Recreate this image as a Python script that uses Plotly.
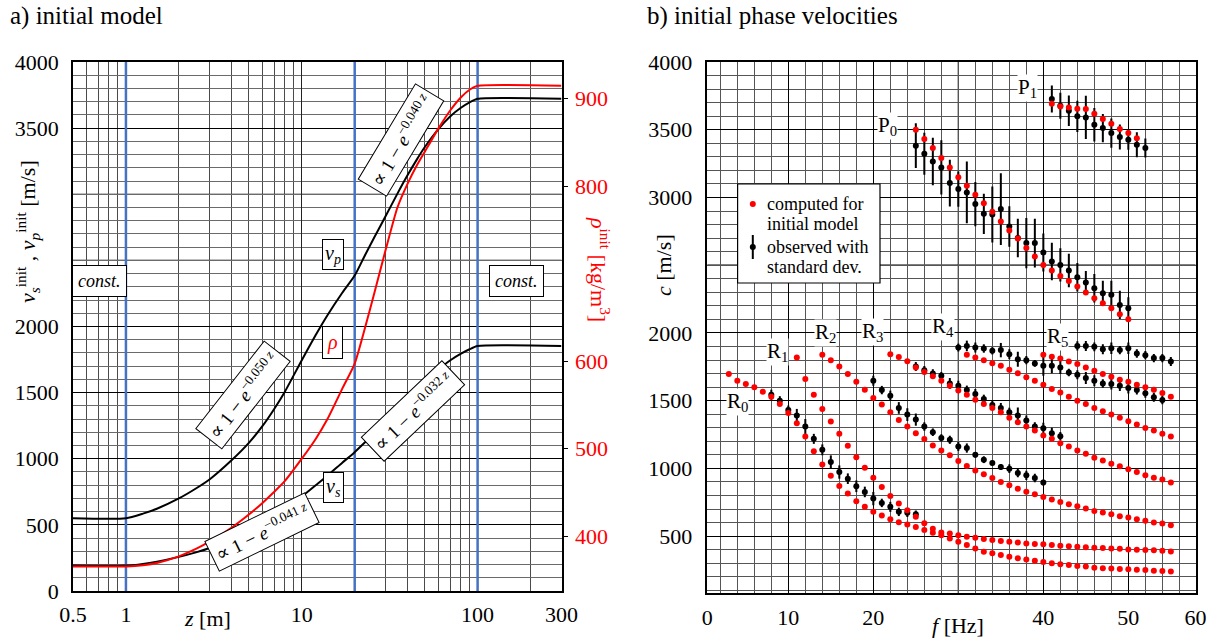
import math
import plotly.graph_objects as go

W, H = 1215, 641
FONT = "Liberation Serif, Times New Roman, DejaVu Serif, serif"

# ---------------- panel a) initial model ----------------
z_m = [0.5, 1, 1.25, 1.5, 2, 2.5, 3, 4, 5, 6, 7, 8, 10, 12, 14, 17, 20, 23, 26, 30, 35, 40, 45, 50,
       60, 70, 80, 90, 100, 300]
vs_init = [192, 192, 205, 222, 258, 292, 325, 395, 458, 515, 565, 615, 715, 800, 872, 970, 1050,
           1127, 1196, 1280, 1372, 1455, 1522, 1580, 1675, 1745, 1793, 1828, 1852, 1852]
vp_init = [550, 550, 585, 622, 700, 775, 845, 990, 1120, 1250, 1380, 1505, 1745, 1935, 2085, 2255,
           2385, 2545, 2680, 2835, 3005, 3145, 3260, 3355, 3495, 3590, 3652, 3695, 3722, 3722]
rho_init = [365.6, 365.6, 367.0, 369.5, 377.1, 385.5, 394.1, 410.0, 424.8, 438.4, 451.1, 462.9,
            488.6, 511.2, 533.9, 568.6, 597.3, 639.6, 679.6, 727.2, 775.5, 802.7, 823.1, 839.0,
            866.2, 886.6, 900.9, 910.0, 914.5, 914.5]
layer_bounds_m = [1, 20, 100]

z_ticks = [0.5, 1, 10, 100, 300]
z_minor = [0.6, 0.7, 0.8, 0.9, 2, 3, 4, 5, 6, 7, 8, 9, 20, 30, 40, 50, 60, 70, 80, 90, 200]
v_ticks = [0, 500, 1000, 1500, 2000, 3500, 4000]
v_unlabelled_major = [2500, 3000]
rho_ticks = [400, 500, 600, 800, 900]

# ---------------- panel b) initial phase velocities ----------------
# computed for initial model (red)
f_R0 = list(range(3, 56))
c_R0 = [1696, 1647, 1623, 1598, 1566, 1529, 1475, 1409, 1333, 1235, 1127, 1029, 946, 870, 814, 757,
        716, 679, 652, 625, 603, 585, 567, 545, 525, 507, 483, 458, 434, 409, 385, 373, 360, 348,
        336, 328, 319, 309, 299, 292, 287, 279, 275, 267, 262, 260, 257, 255, 252, 250, 245, 243, 238]
f_R1 = list(range(11, 56))
c_R1 = [1819, 1659, 1544, 1439, 1346, 1255, 1167, 1083, 1005, 931, 863, 797, 740, 690, 642, 595,
        555, 527, 520, 507, 495, 488, 478, 471, 463, 458, 453, 446, 441, 439, 434, 429, 426, 422,
        417, 414, 412, 409, 407, 402, 400, 397, 395, 392, 387]
f_R2 = list(range(14, 56))
c_R2 = [1838, 1799, 1752, 1696, 1640, 1581, 1520, 1471, 1414, 1358, 1309, 1260, 1216, 1169, 1132,
        1096, 1054, 1017, 985, 956, 929, 900, 875, 850, 828, 809, 789, 770, 752, 735, 721, 703, 686,
        674, 662, 647, 637, 625, 613, 600, 593, 581]
f_R3 = list(range(22, 56))
c_R3 = [1843, 1823, 1790, 1745, 1712, 1680, 1647, 1610, 1574, 1544, 1507, 1475, 1446, 1414, 1373,
        1341, 1309, 1279, 1243, 1218, 1186, 1162, 1132, 1108, 1078, 1059, 1034, 1015, 993, 973, 949,
        931, 917, 895]
f_R4 = list(range(31, 56))
c_R4 = [1838, 1819, 1799, 1777, 1757, 1728, 1703, 1672, 1647, 1618, 1586, 1561, 1529, 1500, 1475,
        1446, 1422, 1397, 1373, 1348, 1324, 1299, 1279, 1255, 1235]
f_R5 = list(range(40, 56))
c_R5 = [1838, 1824, 1811, 1789, 1770, 1745, 1721, 1696, 1677, 1655, 1640, 1618, 1598, 1581, 1557, 1529]
f_P0 = list(range(25, 51))
c_P0 = [3500, 3431, 3365, 3291, 3222, 3150, 3086, 3020, 2958, 2894, 2823, 2756, 2697, 2626, 2564,
        2502, 2461, 2421, 2384, 2342, 2298, 2256, 2219, 2182, 2138, 2101]
f_P1 = list(range(41, 52))
c_P1 = [3692, 3672, 3665, 3655, 3653, 3618, 3579, 3544, 3505, 3475, 3438]

# observed with standard deviation (black)
fo_P0 = list(range(25, 51))
co_P0 = [3382, 3323, 3266, 3222, 3106, 3062, 3037, 2951, 2879, 2874, 2914, 2786, 2700, 2663, 2663,
         2594, 2527, 2502, 2461, 2411, 2372, 2330, 2293, 2281, 2207, 2182]
so_P0 = [165, 155, 175, 200, 172, 130, 228, 164, 148, 207, 265, 150, 142, 185, 180, 140, 138, 123,
         123, 105, 86, 105, 92, 105, 105, 82]
fo_P1 = list(range(41, 53))
co_P1 = [3727, 3677, 3640, 3599, 3591, 3537, 3512, 3475, 3446, 3426, 3389, 3365]
so_P1 = [100, 96, 113, 115, 160, 123, 105, 108, 92, 74, 92, 70]
fo_A = list(range(8, 26))
co_A = [1544, 1500, 1431, 1390, 1309, 1218, 1137, 1047, 973, 924, 868, 826, 777, 745, 716, 679, 672, 662]
so_A = [37, 33, 33, 49, 55, 37, 40, 49, 49, 39, 43, 39, 49, 31, 37, 31, 31, 27]
fo_B = list(range(20, 41))
co_B = [1647, 1578, 1537, 1446, 1397, 1360, 1309, 1267, 1225, 1211, 1162, 1150, 1100, 1064, 1039,
        1010, 998, 966, 949, 929, 895]
so_B = [37, 31, 37, 43, 47, 45, 31, 28, 27, 30, 33, 34, 21, 25, 18, 22, 32, 31, 34, 31, 21]
fo_C = list(range(25, 43))
co_C = [1752, 1725, 1701, 1684, 1627, 1610, 1578, 1549, 1512, 1468, 1446, 1414, 1390, 1353, 1309,
        1297, 1260, 1238]
so_C = [33, 31, 31, 28, 40, 37, 33, 37, 32, 31, 37, 34, 59, 37, 31, 39, 40, 31]
fo_D = list(range(30, 55))
co_D = [1892, 1904, 1892, 1885, 1868, 1873, 1843, 1806, 1799, 1775, 1757, 1757, 1745, 1708, 1691,
        1667, 1647, 1627, 1623, 1610, 1593, 1578, 1554, 1525, 1505]
so_D = [29, 39, 37, 31, 27, 53, 37, 55, 31, 25, 74, 55, 49, 28, 33, 45, 40, 31, 40, 39, 40, 33, 33, 33, 31]
fo_E = list(range(44, 56))
co_E = [1904, 1904, 1897, 1880, 1887, 1873, 1887, 1848, 1836, 1814, 1814, 1789]
so_E = [34, 37, 33, 37, 43, 31, 43, 31, 31, 31, 31, 33]

f_ticks = [0.47, 10, 20, 40, 50, 57.9]
f_labels = ["0", "10", "20", "40", "50", "60"]
f_unlabelled_major = [30]
c_ticks = [500, 1000, 1500, 2000, 3000, 3500, 4000]
c_unlabelled_major = [2500]

computed = [(f_R0, c_R0), (f_R1, c_R1), (f_R2, c_R2), (f_R3, c_R3), (f_R4, c_R4), (f_R5, c_R5),
            (f_P0, c_P0), (f_P1, c_P1)]
observed = [(fo_P0, co_P0, so_P0), (fo_P1, co_P1, so_P1), (fo_A, co_A, so_A), (fo_B, co_B, so_B),
            (fo_C, co_C, so_C), (fo_D, co_D, so_D), (fo_E, co_E, so_E)]


def px(x):
    return x / W


def py(y):
    return 1 - y / H


fig = go.Figure()

# panel a traces
for zb in layer_bounds_m:
    fig.add_trace(go.Scatter(x=[zb, zb], y=[0, 4000], mode="lines",
                             line=dict(color="#4472C4", width=2.5),
                             xaxis="x", yaxis="y", showlegend=False, hoverinfo="skip"))
curve_line = dict(width=2, shape="spline", smoothing=0.6)
fig.add_trace(go.Scatter(x=z_m, y=vs_init, mode="lines", line=dict(color="black", **curve_line),
                         xaxis="x", yaxis="y", showlegend=False))
fig.add_trace(go.Scatter(x=z_m, y=vp_init, mode="lines", line=dict(color="black", **curve_line),
                         xaxis="x", yaxis="y", showlegend=False))
fig.add_trace(go.Scatter(x=z_m, y=rho_init, mode="lines", line=dict(color="red", **curve_line),
                         xaxis="x", yaxis="y2", showlegend=False))

# panel b traces
for fo, co, so in observed:
    fig.add_trace(go.Scatter(x=fo, y=co, mode="markers",
                             marker=dict(color="black", size=6),
                             error_y=dict(type="data", array=so, visible=True, thickness=2, width=0, color="black"),
                             xaxis="x2", yaxis="y3", showlegend=False))
for fc, cc in computed:
    fig.add_trace(go.Scatter(x=fc, y=cc, mode="markers",
                             marker=dict(color="red", size=6),
                             xaxis="x2", yaxis="y3", showlegend=False))

tickfont = dict(family=FONT, size=22, color="black")
axis_common = dict(showline=True, linecolor="black", linewidth=1.5, mirror=True, ticks="",
                   zeroline=False, tickfont=tickfont, automargin=False)

fig.update_layout(
    width=W, height=H, autosize=False,
    margin=dict(l=0, r=0, t=0, b=0, pad=0, autoexpand=False),
    paper_bgcolor="white", plot_bgcolor="rgba(0,0,0,0)",
    font=dict(family=FONT, size=20, color="black"),
    xaxis=dict(type="log", range=[math.log10(0.5), math.log10(300)],
               domain=[px(73), px(561.5)], anchor="y",
               tickmode="array", tickvals=z_ticks, ticktext=[str(v) for v in z_ticks],
               showgrid=True, gridcolor="#222222", gridwidth=1,
               minor=dict(tickmode="array", tickvals=z_minor, showgrid=True,
                          gridcolor="#4a4a4a", gridwidth=0.9),
               ticklabelstandoff=3, **axis_common),
    yaxis=dict(range=[0, 4000], domain=[py(591), py(62)], anchor="x",
               tickmode="array", tickvals=v_ticks,
               showgrid=True, gridcolor="black", gridwidth=1.2,
               minor=dict(dtick=100, tick0=0, showgrid=True, gridcolor="#6a6a6a", gridwidth=0.8),
               ticklabelstandoff=8, **axis_common),
    yaxis2=dict(range=[337.5, 941.7], overlaying="y", side="right", anchor="x",
                tickmode="array", tickvals=rho_ticks, showgrid=False, zeroline=False,
                showline=False, ticks="outside", ticklen=5, tickcolor="black", automargin=False,
                tickfont=dict(family=FONT, size=22, color="red"), ticklabelstandoff=3),
    xaxis2=dict(range=[0.47, 57.9], domain=[px(707.3), px(1195.5)], anchor="y3",
                tickmode="array", tickvals=f_ticks, ticktext=f_labels,
                showgrid=True, gridcolor="black", gridwidth=1.2,
                minor=dict(dtick=2, tick0=0, showgrid=True, gridcolor="#555555", gridwidth=0.9),
                ticklabelstandoff=4, **axis_common),
    yaxis3=dict(range=[80, 4000], domain=[py(593), py(62)], anchor="x2",
                tickmode="array", tickvals=c_ticks,
                showgrid=True, gridcolor="black", gridwidth=1.2,
                minor=dict(dtick=100, tick0=0, showgrid=True, gridcolor="#555555", gridwidth=0.9),
                ticklabelstandoff=9, **axis_common),
)

ann = []


def text(x, y, t, size=22, color="black", angle=0, xanchor="center", box=False, bg=None, pad=3):
    d = dict(x=px(x), y=py(y), xref="paper", yref="paper", text=t, showarrow=False,
             font=dict(family=FONT, size=size, color=color), textangle=angle,
             xanchor=xanchor, yanchor="middle")
    if box:
        d.update(bordercolor="black", borderwidth=1, bgcolor="white", borderpad=pad)
    elif bg:
        d.update(bgcolor=bg, borderpad=0)
    ann.append(d)


# titles
text(8, 16, "a) initial model", size=25, xanchor="left")
text(645, 16, "b) initial phase velocities", size=25, xanchor="left")
# axis titles
text(28, 232, "<i>v</i><sub><i>s</i></sub><sup>init</sup> , <i>v</i><sub><i>p</i></sub><sup>init</sup> [m/s]",
     size=22, angle=-90)
text(600, 269, "<i>ρ</i><sup>init</sup> [kg/m<sup>3</sup>]", size=22, color="red", angle=90)
text(207, 618, "<i>z</i> [m]", size=22)
text(958, 625, "<i>f</i> [Hz]", size=22)
text(664, 265, "<i>c</i> [m/s]", size=22, angle=-90)

# panel a boxes
text(99, 281, "<i>const.</i>", size=18, box=True, pad=5)
text(516, 281, "<i>const.</i>", size=18, box=True, pad=5)
text(333, 254, "<i>v<sub>p</sub></i>", size=20, box=True, pad=2)
text(332, 342, "<i>ρ</i>", size=20, color="red", box=True, pad=4)
text(333, 487, "<i>v<sub>s</sub></i>", size=20, box=True, pad=2)
text(401, 140, "∝ 1 − <i>e</i><sup>−0.040 <i>z</i></sup>", size=19, angle=-59, box=True, pad=4)
text(243, 395, "∝ 1 − <i>e</i><sup>−0.050 <i>z</i></sup>", size=19, angle=-52, box=True, pad=4)
text(413, 411, "∝ 1 − <i>e</i><sup>−0.032 <i>z</i></sup>", size=19, angle=-43.5, box=True, pad=4)
text(262, 532, "∝ 1 − <i>e</i><sup>−0.041 <i>z</i></sup>", size=19, angle=-26, box=True, pad=4)

# panel b branch labels
for lx, ly, lt in [(887, 126, "P<sub>0</sub>"), (1027, 88, "P<sub>1</sub>"),
                   (737, 402, "R<sub>0</sub>"), (777, 352, "R<sub>1</sub>"),
                   (825, 333, "R<sub>2</sub>"), (872, 332, "R<sub>3</sub>"),
                   (943, 327, "R<sub>4</sub>"), (1057, 337, "R<sub>5</sub>")]:
    text(lx, ly, lt, size=21, bg="white")

shapes = []
# major gridlines whose tick labels are hidden in the reference
for v in v_unlabelled_major:
    shapes.append(dict(type="line", xref="paper", x0=px(73), x1=px(561.5), yref="y", y0=v, y1=v,
                       line=dict(color="black", width=1.2), layer="below"))
for v in c_unlabelled_major:
    shapes.append(dict(type="line", xref="paper", x0=px(707.3), x1=px(1195.5), yref="y3", y0=v, y1=v,
                       line=dict(color="black", width=1.2), layer="below"))
for v in f_unlabelled_major:
    shapes.append(dict(type="line", xref="x2", x0=v, x1=v, yref="paper", y0=py(593), y1=py(62),
                       line=dict(color="black", width=1.2), layer="below"))

# manual legend
shapes += [
    dict(type="rect", xref="paper", yref="paper", x0=px(737.6), x1=px(880), y0=py(283), y1=py(184),
         line=dict(color="black", width=1.2), fillcolor="white", layer="above"),
    dict(type="circle", xref="paper", yref="paper", x0=px(749.8), x1=px(755.8), y0=py(207), y1=py(201),
         line=dict(color="red", width=0), fillcolor="red", layer="above"),
    dict(type="line", xref="paper", yref="paper", x0=px(752.8), x1=px(752.8), y0=py(259), y1=py(235),
         line=dict(color="black", width=2), layer="above"),
    dict(type="circle", xref="paper", yref="paper", x0=px(749.8), x1=px(755.8), y0=py(250), y1=py(244),
         line=dict(color="black", width=0), fillcolor="black", layer="above"),
]
for ty, tt in [(204, "computed for"), (224, "initial model"), (247, "observed with"), (267, "standard dev.")]:
    text(765, ty, tt, size=18, xanchor="left")

fig.update_layout(annotations=ann, shapes=shapes)
fig.write_html("out.html")
